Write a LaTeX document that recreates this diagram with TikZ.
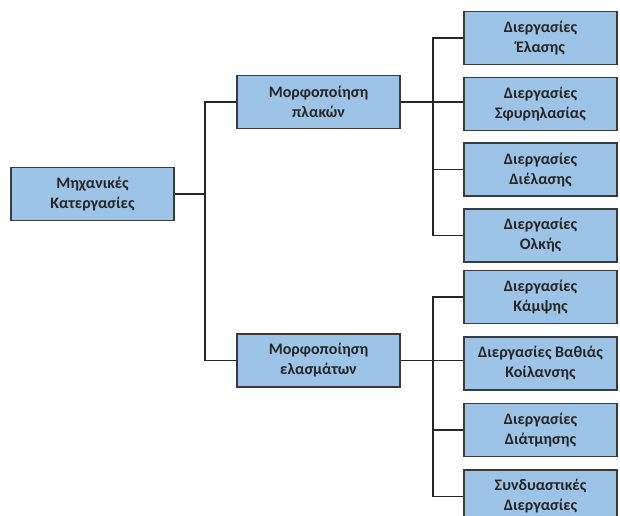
\documentclass[tikz,border=0pt]{standalone}
\usepackage{fontspec}
\setmainfont{Carlito}
\usepackage{tikz}
\usepackage{xcolor}
\usetikzlibrary{positioning}
\definecolor{boxfill}{HTML}{9DC3E6}
\definecolor{boxline}{HTML}{3A3A3A}

\begin{document}
\begin{tikzpicture}[
x=0.75pt,y=-0.75pt,
box/.style={draw=boxline,line width=1.1pt,fill=boxfill,align=center,minimum height=39.75pt,minimum width=122pt,inner sep=2pt,font=\fontsize{12}{15}\selectfont\bfseries,text=black!85},
leaf/.style={box,minimum width=115pt},
link/.style={line width=1.1pt,black!85}
]
\useasboundingbox (0,0) rectangle (620,515);
\node[box] (mech) at (92.5,194) {Μηχανικές\\Κατεργασίες};
\node[box] (plates) at (318.5,102) {Μορφοποίηση\\πλακών};
\node[box] (sheets) at (318.5,360.5) {Μορφοποίηση\\ελασμάτων};
% plate processes
\node[leaf] (roll) at (540.5,38) {Διεργασίες\\Έλασης};
\node[leaf,below=8.5pt of roll] (forge) {Διεργασίες\\Σφυρηλασίας};
\node[leaf,below=8.5pt of forge] (extr) {Διεργασίες\\Διέλασης};
\node[leaf,below=8.5pt of extr] (draw) {Διεργασίες\\Ολκής};
% sheet processes
\node[leaf] (bend) at (540.5,297) {Διεργασίες\\Κάμψης};
\node[leaf,below=9pt of bend] (deep) {Διεργασίες Βαθιάς\\Κοίλανσης};
\node[leaf,below=9pt of deep] (shear) {Διεργασίες\\Διάτμησης};
\node[leaf,below=9pt of shear] (comb) {Συνδυαστικές\\Διεργασίες};
\coordinate (j1) at (205,194);
\coordinate (j2) at (433,102);
\coordinate (j3) at (433,360.5);
\draw[link] (mech) -- (j1);
\draw[link] (plates.west) -| (j1) |- (sheets.west);
\draw[link] (plates) -- (j2);
\draw[link] (roll.west) -| (j2) |- (draw.west);
\draw[link] (j2) -- (j2 -| forge.west);
\draw[link] (j2 |- extr) -- (extr.west);
\draw[link] (sheets) -- (j3);
\draw[link] (bend.west) -| (j3) |- (comb.west);
\draw[link] (j3) -- (j3 -| deep.west);
\draw[link] (j3 |- shear) -- (shear.west);
\end{tikzpicture}
\end{document}
